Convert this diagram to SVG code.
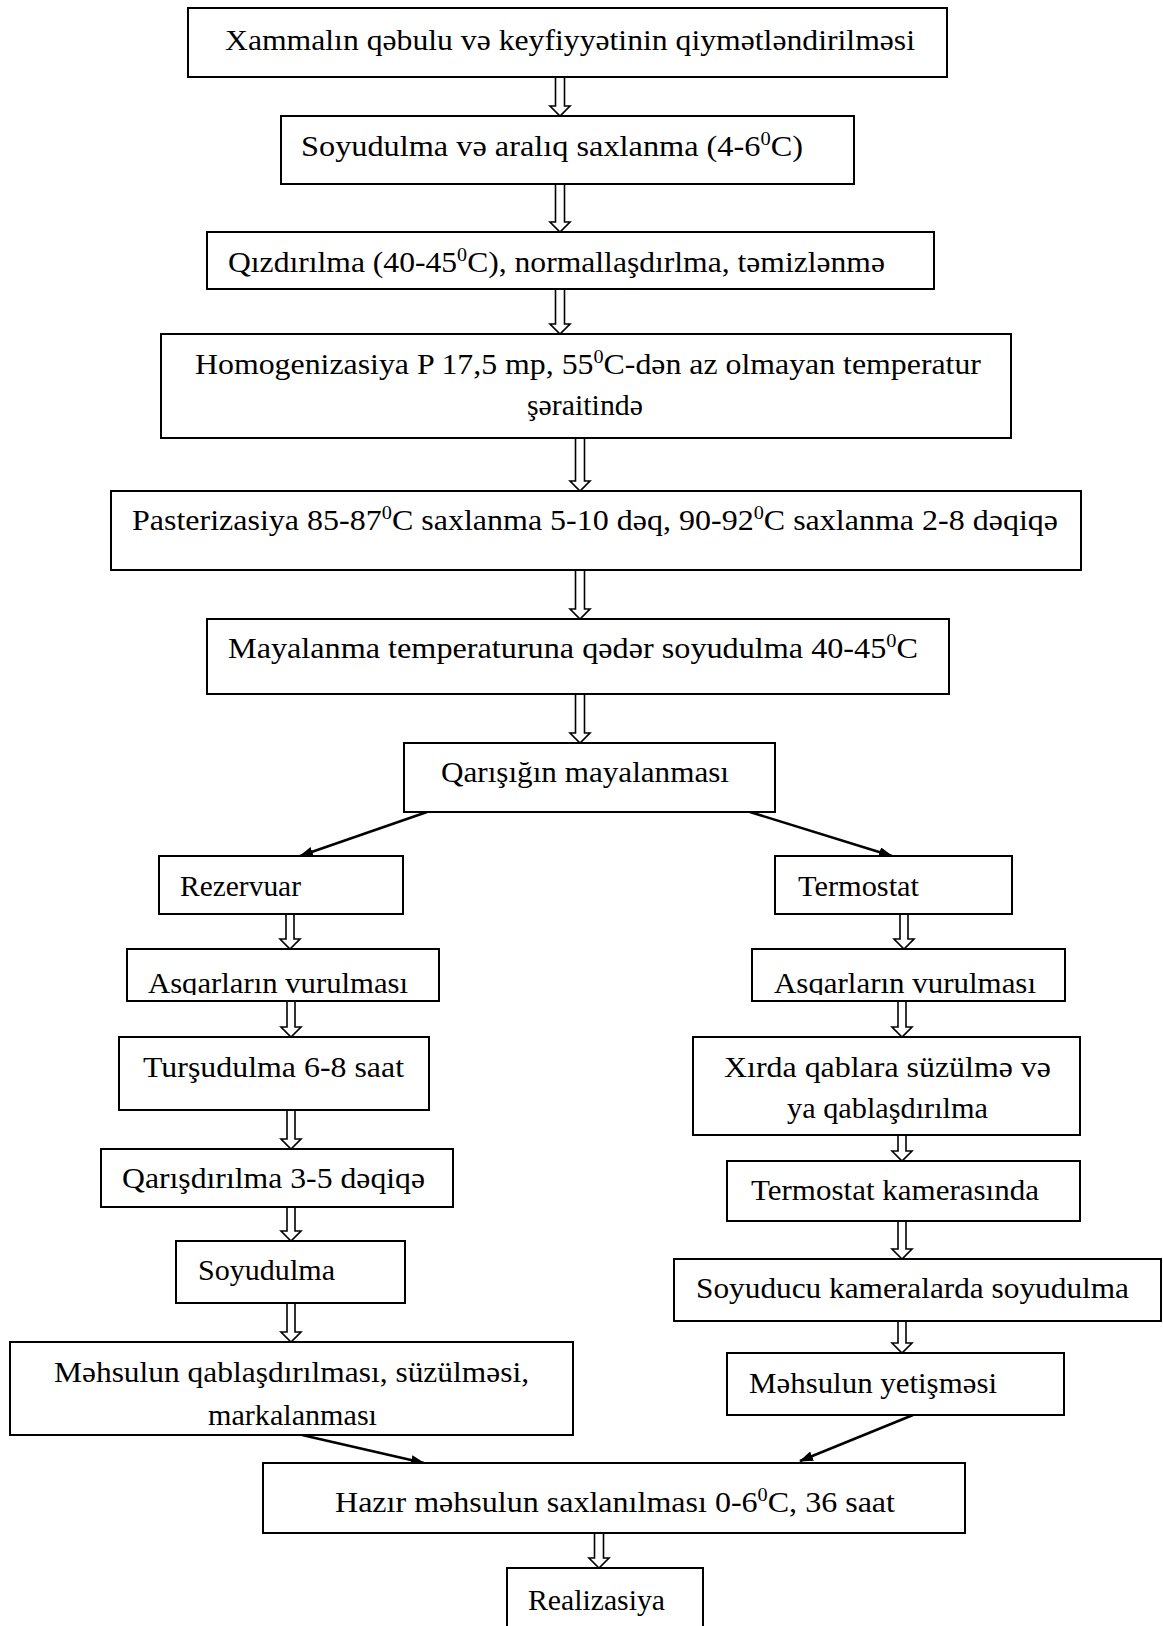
<svg xmlns="http://www.w3.org/2000/svg" width="1163" height="1626" viewBox="0 0 1163 1626">
<style>
.box{fill:#fff;stroke:#000;stroke-width:2}
.t{font-family:"Liberation Serif","Times New Roman",Times,serif;font-size:30px;fill:#000}
.sup{font-size:19px}
.ha{fill:#fff;stroke:#000;stroke-width:1.6;stroke-linejoin:miter}
.dl{fill:none;stroke:#000;stroke-width:2.5}
</style>
<defs>
<marker id="ah" markerUnits="userSpaceOnUse" markerWidth="14" markerHeight="10" refX="13" refY="5" orient="auto">
<path d="M0,0 L14,5 L0,10 Z" fill="#000"/>
</marker>
<clipPath id="clipL"><rect x="120" y="940" width="330" height="55"/></clipPath>
<clipPath id="clipR"><rect x="745" y="940" width="330" height="55"/></clipPath>
</defs>
<rect width="1163" height="1626" fill="#fff"/>

<g id="connectors">
<path class="ha" d="M555.5,77 V106 H550 L560,116 L570,106 H564.5 V77"/>
<path class="ha" d="M555.5,184 V222 H550 L560,232 L570,222 H564.5 V184"/>
<path class="ha" d="M555.5,289 V324 H550 L560,334 L570,324 H564.5 V289"/>
<path class="ha" d="M575.5,438 V481 H570 L580,491 L590,481 H584.5 V438"/>
<path class="ha" d="M575.5,570 V609 H570 L580,619 L590,609 H584.5 V570"/>
<path class="ha" d="M575.5,694 V733 H570 L580,743 L590,733 H584.5 V694"/>
<line class="dl" x1="427" y1="812" x2="300" y2="856" marker-end="url(#ah)"/>
<line class="dl" x1="750" y1="812" x2="892" y2="856" marker-end="url(#ah)"/>
<path class="ha" d="M286,914 V939 H280 L290,949 L300,939 H294 V914"/>
<path class="ha" d="M900,914 V939 H894 L904,949 L914,939 H908 V914"/>
<path class="ha" d="M287,1001 V1027 H281 L291,1037 L301,1027 H295 V1001"/>
<path class="ha" d="M898,1001 V1027 H892 L902,1037 L912,1027 H906 V1001"/>
<path class="ha" d="M287,1110 V1139 H281 L291,1149 L301,1139 H295 V1110"/>
<path class="ha" d="M287,1207 V1231 H281 L291,1241 L301,1231 H295 V1207"/>
<path class="ha" d="M287,1303 V1332 H281 L291,1342 L301,1332 H295 V1303"/>
<path class="ha" d="M898,1135 V1151 H892 L902,1161 L912,1151 H906 V1135"/>
<path class="ha" d="M898,1221 V1249 H892 L902,1259 L912,1249 H906 V1221"/>
<path class="ha" d="M898,1321 V1343 H892 L902,1353 L912,1343 H906 V1321"/>
<line class="dl" x1="302" y1="1435" x2="424" y2="1463" marker-end="url(#ah)"/>
<line class="dl" x1="913" y1="1415" x2="800" y2="1461" marker-end="url(#ah)"/>
<path class="ha" d="M594.5,1533 V1558 H589 L599,1568 L609,1558 H603.5 V1533"/>
</g>

<g id="n1"><rect class="box" x="188" y="8" width="759" height="69"/>
<text class="t" x="225" y="50" textLength="690" lengthAdjust="spacingAndGlyphs">Xammalın qəbulu və keyfiyyətinin qiymətləndirilməsi</text></g>

<g id="n2"><rect class="box" x="281" y="116" width="573" height="68"/>
<text class="t" x="301" y="156" textLength="502" lengthAdjust="spacingAndGlyphs">Soyudulma və aralıq saxlanma (4-6<tspan class="sup" dy="-11">0</tspan><tspan dy="11">C)</tspan></text></g>

<g id="n3"><rect class="box" x="207" y="232" width="727" height="57"/>
<text class="t" x="228" y="272" textLength="657" lengthAdjust="spacingAndGlyphs">Qızdırılma (40-45<tspan class="sup" dy="-11">0</tspan><tspan dy="11">C), normallaşdırlma, təmizlənmə</tspan></text></g>

<g id="n4"><rect class="box" x="161" y="334" width="850" height="104"/>
<text class="t" x="195" y="374" textLength="786" lengthAdjust="spacingAndGlyphs">Homogenizasiya P 17,5 mp, 55<tspan class="sup" dy="-11">0</tspan><tspan dy="11">C-dən az olmayan temperatur</tspan></text>
<text class="t" x="527" y="415" textLength="116" lengthAdjust="spacingAndGlyphs">şəraitində</text></g>

<g id="n5"><rect class="box" x="111" y="491" width="970" height="79"/>
<text class="t" x="132" y="530" textLength="926" lengthAdjust="spacingAndGlyphs">Pasterizasiya 85-87<tspan class="sup" dy="-11">0</tspan><tspan dy="11">C saxlanma 5-10 dəq, 90-92</tspan><tspan class="sup" dy="-11">0</tspan><tspan dy="11">C saxlanma 2-8 dəqiqə</tspan></text></g>

<g id="n6"><rect class="box" x="207" y="619" width="742" height="75"/>
<text class="t" x="228" y="658" textLength="690" lengthAdjust="spacingAndGlyphs">Mayalanma temperaturuna qədər soyudulma 40-45<tspan class="sup" dy="-11">0</tspan><tspan dy="11">C</tspan></text></g>

<g id="n7"><rect class="box" x="404" y="743" width="371" height="69"/>
<text class="t" x="441" y="782" textLength="288" lengthAdjust="spacingAndGlyphs">Qarışığın mayalanması</text></g>

<g id="n8"><rect class="box" x="159" y="856" width="244" height="58"/>
<text class="t" x="180" y="896" textLength="121" lengthAdjust="spacingAndGlyphs">Rezervuar</text></g>

<g id="n9"><rect class="box" x="775" y="856" width="237" height="58"/>
<text class="t" x="798" y="896" textLength="121" lengthAdjust="spacingAndGlyphs">Termostat</text></g>

<g id="n10"><rect class="box" x="127" y="949" width="312" height="52"/>
<text class="t" x="148" y="993" textLength="260" lengthAdjust="spacingAndGlyphs" clip-path="url(#clipL)">Asqarların vurulması</text></g>

<g id="n11"><rect class="box" x="752" y="949" width="313" height="52"/>
<text class="t" x="774" y="993" textLength="262" lengthAdjust="spacingAndGlyphs" clip-path="url(#clipR)">Asqarların vurulması</text></g>

<g id="n12"><rect class="box" x="119" y="1037" width="310" height="73"/>
<text class="t" x="143" y="1077" textLength="261" lengthAdjust="spacingAndGlyphs">Turşudulma 6-8 saat</text></g>

<g id="n13"><rect class="box" x="101" y="1149" width="352" height="58"/>
<text class="t" x="122" y="1188" textLength="303" lengthAdjust="spacingAndGlyphs">Qarışdırılma 3-5 dəqiqə</text></g>

<g id="n14"><rect class="box" x="176" y="1241" width="229" height="62"/>
<text class="t" x="198" y="1280" textLength="137" lengthAdjust="spacingAndGlyphs">Soyudulma</text></g>

<g id="n15"><rect class="box" x="10" y="1342" width="563" height="93"/>
<text class="t" x="54" y="1382" textLength="475" lengthAdjust="spacingAndGlyphs">Məhsulun qablaşdırılması, süzülməsi,</text>
<text class="t" x="208" y="1425" textLength="169" lengthAdjust="spacingAndGlyphs">markalanması</text></g>

<g id="n16"><rect class="box" x="693" y="1037" width="387" height="98"/>
<text class="t" x="724" y="1077" textLength="327" lengthAdjust="spacingAndGlyphs">Xırda qablara süzülmə və</text>
<text class="t" x="787" y="1118" textLength="201" lengthAdjust="spacingAndGlyphs">ya qablaşdırılma</text></g>

<g id="n17"><rect class="box" x="727" y="1161" width="353" height="60"/>
<text class="t" x="751" y="1200" textLength="288" lengthAdjust="spacingAndGlyphs">Termostat kamerasında</text></g>

<g id="n18"><rect class="box" x="674" y="1259" width="487" height="62"/>
<text class="t" x="696" y="1298" textLength="433" lengthAdjust="spacingAndGlyphs">Soyuducu kameralarda soyudulma</text></g>

<g id="n19"><rect class="box" x="727" y="1353" width="337" height="62"/>
<text class="t" x="749" y="1393" textLength="248" lengthAdjust="spacingAndGlyphs">Məhsulun yetişməsi</text></g>

<g id="n20"><rect class="box" x="263" y="1463" width="702" height="70"/>
<text class="t" x="335" y="1512" textLength="560" lengthAdjust="spacingAndGlyphs">Hazır məhsulun saxlanılması 0-6<tspan class="sup" dy="-11">0</tspan><tspan dy="11">C, 36 saat</tspan></text></g>

<g id="n21"><rect class="box" x="507" y="1568" width="196" height="80"/>
<text class="t" x="528" y="1610" textLength="137" lengthAdjust="spacingAndGlyphs">Realizasiya</text></g>
</svg>
